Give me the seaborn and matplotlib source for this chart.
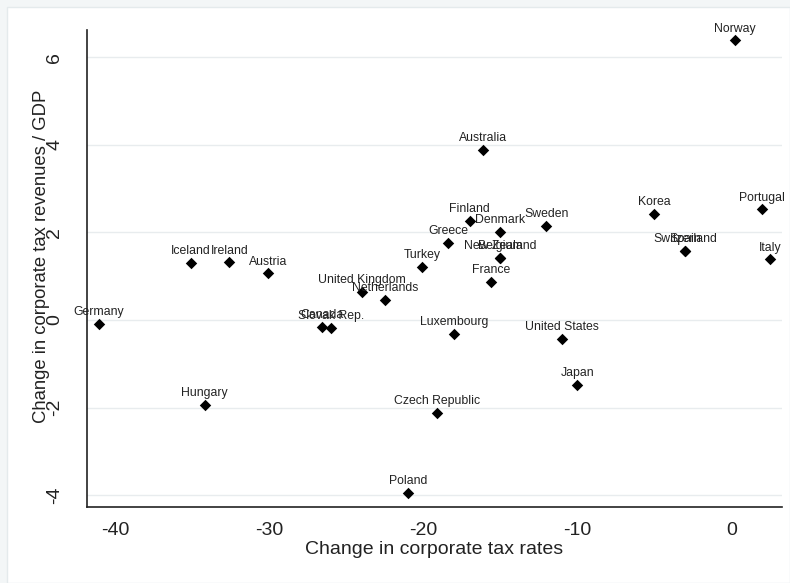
import pandas as pd
import seaborn as sns
import matplotlib.pyplot as plt
from matplotlib.patches import Rectangle

countries = ['Norway', 'Australia', 'Korea', 'Portugal', 'Italy', 'Spain', 'Switzerland',
             'Sweden', 'Finland', 'Denmark', 'Greece', 'New Zealand', 'Belgium', 'Turkey',
             'France', 'United Kingdom', 'Netherlands', 'Canada', 'Slovak Rep.', 'Luxembourg',
             'United States', 'Japan', 'Czech Republic', 'Hungary', 'Poland', 'Germany',
             'Iceland', 'Ireland', 'Austria']
rate_change = [0.25, -16.1, -5.0, 2.0, 2.55, -3.0, -3.0,
               -12.0, -17.0, -15.0, -18.4, -15.0, -15.0, -20.1,
               -15.6, -24.0, -22.5, -26.6, -26.0, -18.0,
               -11.0, -10.0, -19.1, -34.2, -21.0, -41.1,
               -35.1, -32.6, -30.1]
revenue_change = [6.39, 3.88, 2.42, 2.53, 1.39, 1.58, 1.58,
                  2.15, 2.26, 2.01, 1.76, 1.42, 1.42, 1.21,
                  0.87, 0.64, 0.46, -0.16, -0.18, -0.32,
                  -0.43, -1.48, -2.12, -1.94, -3.95, -0.09,
                  1.30, 1.32, 1.07]

df = pd.DataFrame({'country': countries, 'rate': rate_change, 'revenue': revenue_change})

sns.set_style('white')
plt.rcParams['font.family'] = ['Liberation Sans', 'DejaVu Sans']
plt.rcParams['axes.unicode_minus'] = False

fig = plt.figure(figsize=(7.9, 5.83), dpi=100, facecolor='#f3f6f7')
# white graph region with a faint outline, as in the original
fig.patches.append(Rectangle((7 / 790, 0), 1 - 7 / 790, 1 - 7 / 583, transform=fig.transFigure,
                             facecolor='white', edgecolor='#e4eaec', linewidth=1, zorder=-10))
ax = fig.add_axes([87 / 790, 1 - 507 / 583, 695 / 790, 477 / 583])
ax.set_zorder(1)
ax.set_facecolor('white')

sns.scatterplot(data=df, x='rate', y='revenue', marker='D', color='black', s=34,
                edgecolor='black', linewidth=0, ax=ax, zorder=3)

for _, row in df.iterrows():
    ax.annotate(row['country'], (row['rate'], row['revenue']), xytext=(0, 4),
                textcoords='offset points', ha='center', va='bottom', fontsize=8.8,
                color='#222222', zorder=4)

ax.set_xlim(-41.85, 3.3)
ax.set_ylim(-4.27, 6.62)
ax.set_xticks([-40, -30, -20, -10, 0])
ax.set_yticks([-4, -2, 0, 2, 4, 6])
ax.yaxis.grid(True, color='#e8ecee', linewidth=1)
ax.set_axisbelow(True)

for side in ['top', 'right']:
    ax.spines[side].set_visible(False)
for side in ['left', 'bottom']:
    ax.spines[side].set_color('#222222')
    ax.spines[side].set_linewidth(1.2)

ax.tick_params(axis='both', direction='out', length=5, width=1, color='#222222',
               labelsize=14, labelcolor='#222222')
ax.tick_params(axis='x', pad=6)
ax.tick_params(axis='y', pad=12, labelrotation=90)
for lab in ax.get_yticklabels():
    lab.set_va('center')

ax.set_xlabel('Change in corporate tax rates', fontsize=14, color='#222222')
ax.set_ylabel('Change in corporate tax revenues / GDP', fontsize=13.3, color='#222222')
ax.xaxis.set_label_coords(0.5, -0.09)
ax.xaxis.label.set_va('center')
ax.yaxis.set_label_coords(-0.066, 0.526)
ax.yaxis.label.set_va('center')

fig.savefig('out.png', dpi=100, facecolor=fig.get_facecolor())
